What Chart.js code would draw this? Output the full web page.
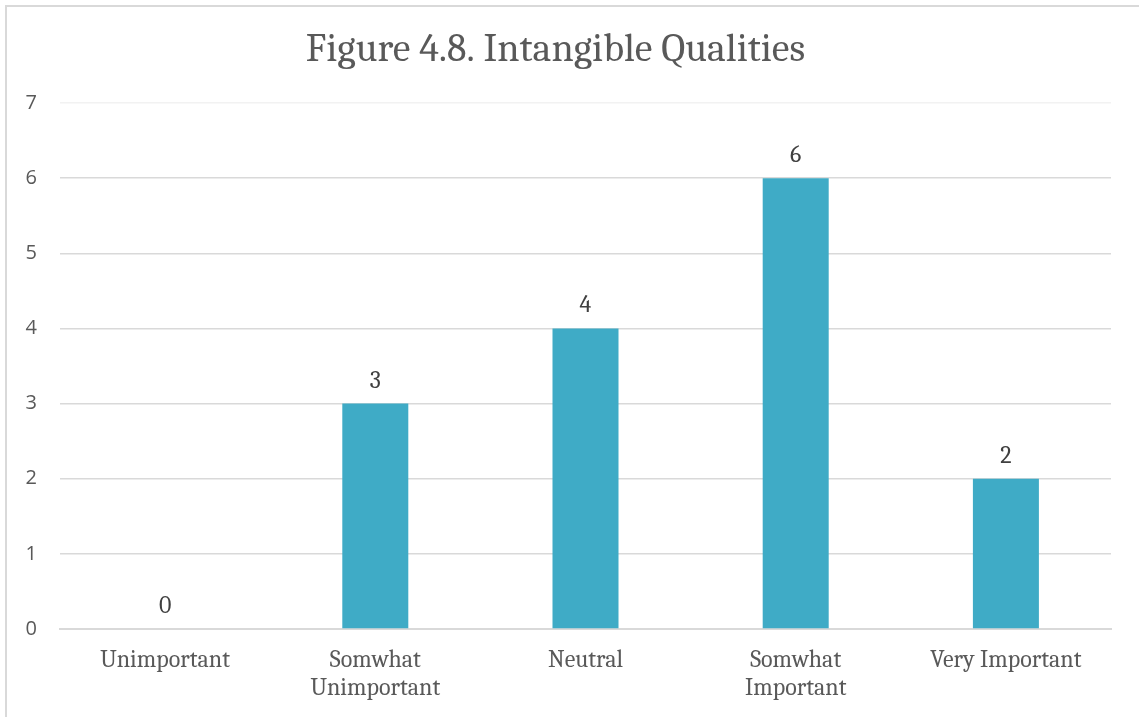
<!DOCTYPE html>
<html>
<head>
<meta charset="utf-8">
<script src="https://cdn.jsdelivr.net/npm/chart.js@4"></script>
<style>
  body { margin: 0; background: #fff; }
  #wrap { position: relative; width: 1139px; height: 717px; overflow: hidden; }
  #frame { position: absolute; left: 5px; top: 5px; width: 1150px; height: 730px; border: 2px solid #D9D9D9; box-sizing: border-box; }
  canvas { position: absolute; left: 0; top: 0; }
</style>
</head>
<body>
<div id="wrap">
  <div id="frame"></div>
  <canvas id="chart" width="1139" height="717"></canvas>
</div>
<script>
var categories = ['Unimportant', ['Somwhat', 'Unimportant'], 'Neutral', ['Somwhat', 'Important'], 'Very Important'];
var counts = [0, 3, 4, 6, 2];
var yTicks = [0, 1, 2, 3, 4, 5, 6, 7];

var serif = "Cambria, Caladea, 'Liberation Serif', serif";

// values above the bars, like the Excel data labels
var valueLabels = {
  id: 'valueLabels',
  afterDatasetsDraw: function (chart) {
    var ctx = chart.ctx;
    var meta = chart.getDatasetMeta(0);
    ctx.save();
    ctx.font = '24px ' + serif;
    ctx.fillStyle = '#404040';
    ctx.textAlign = 'center';
    ctx.textBaseline = 'alphabetic';
    meta.data.forEach(function (bar, i) {
      ctx.fillText(counts[i], bar.x, bar.y - 16);
    });
    ctx.restore();
  }
};

var ctx = document.getElementById('chart').getContext('2d');
var myChart = new Chart(ctx, {
  type: 'bar',
  data: {
    labels: categories,
    datasets: [{
      label: 'Count',
      data: counts,
      backgroundColor: '#3FABC6',
      borderWidth: 0,
      barPercentage: 1,
      categoryPercentage: 0.314
    }]
  },
  options: {
    responsive: false,
    animation: false,
    layout: { padding: { left: 0, right: 28, top: 0, bottom: 0 } },
    plugins: {
      legend: { display: false },
      tooltip: { enabled: false },
      title: {
        display: true,
        text: 'Figure 4.8. Intangible Qualities',
        color: '#595959',
        font: { family: serif, size: 40, weight: 'normal', lineHeight: 1.2 },
        padding: { top: 26, bottom: 29 }
      }
    },
    scales: {
      x: {
        grid: { display: false, drawTicks: false },
        border: { display: true, color: '#D9D9D9', width: 2 },
        ticks: {
          color: '#595959',
          font: { family: serif, size: 24, lineHeight: 1.17 },
          padding: 17,
          maxRotation: 0,
          autoSkip: false
        },
        afterFit: function (scale) { scale.height = 88; }
      },
      y: {
        min: 0,
        max: 7,
        afterBuildTicks: function (scale) {
          scale.ticks = yTicks.map(function (v) { return { value: v }; });
        },
        grid: {
          drawTicks: false,
          color: function (c) { return c.tick && c.tick.value === 7 ? '#F2F2F2' : '#D9D9D9'; },
          lineWidth: 1.5
        },
        border: { display: false },
        ticks: {
          color: '#595959',
          font: { family: "'Open Sans', Calibri, sans-serif", size: 20 },
          padding: 23
        },
        afterFit: function (scale) { scale.width = 60; }
      }
    }
  },
  plugins: [valueLabels]
});
</script>
</body>
</html>
